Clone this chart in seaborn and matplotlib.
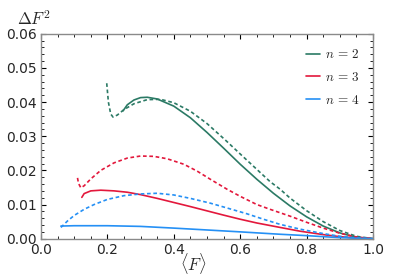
import matplotlib
matplotlib.use("Agg")
import matplotlib.pyplot as plt
import seaborn as sns
import pandas as pd
from matplotlib.ticker import MultipleLocator
from matplotlib.lines import Line2D

sns.set_theme(style="ticks")
plt.rcParams['font.family'] = ['DejaVu Sans']
plt.rcParams['mathtext.fontset'] = 'cm'

# n = 2
g_sol_x = [0.247, 0.26, 0.28, 0.30, 0.32, 0.35, 0.40, 0.45, 0.50, 0.55, 0.60, 0.65, 0.70, 0.75, 0.80, 0.85, 0.90, 0.95, 1.0]
g_sol_y = [0.0374, 0.0392, 0.0406, 0.0413, 0.0414, 0.0409, 0.0388, 0.0354, 0.0311, 0.0265, 0.0218, 0.0174, 0.0133, 0.0096, 0.0064, 0.0037, 0.0017, 0.0004, 0.0]
g_dsh_x = [0.198, 0.203, 0.210, 0.217, 0.23, 0.25, 0.28, 0.32, 0.36, 0.40, 0.45, 0.50, 0.555, 0.60, 0.65, 0.69, 0.72, 0.75, 0.80, 0.85, 0.90, 0.95, 1.0]
g_dsh_y = [0.0455, 0.0400, 0.0365, 0.0356, 0.0362, 0.0378, 0.0395, 0.0407, 0.0408, 0.0398, 0.0373, 0.0337, 0.0289, 0.0248, 0.0203, 0.0167, 0.0145, 0.0119, 0.0082, 0.0050, 0.0024, 0.0007, 0.0]
# n = 3
r_sol_x = [0.123, 0.13, 0.15, 0.18, 0.22, 0.26, 0.30, 0.35, 0.40, 0.45, 0.51, 0.55, 0.60, 0.65, 0.72, 0.78, 0.85, 0.90, 0.95, 1.0]
r_sol_y = [0.0121, 0.0132, 0.0140, 0.0142, 0.0140, 0.0136, 0.0129, 0.0118, 0.0106, 0.0094, 0.0079, 0.0069, 0.0057, 0.0046, 0.0033, 0.0022, 0.0012, 0.0006, 0.0002, 0.0]
r_dsh_x = [0.110, 0.113, 0.120, 0.13, 0.15, 0.18, 0.22, 0.26, 0.30, 0.34, 0.38, 0.43, 0.47, 0.51, 0.56, 0.60, 0.65, 0.69, 0.72, 0.75, 0.80, 0.85, 0.90, 0.95, 1.0]
r_dsh_y = [0.0178, 0.0162, 0.0149, 0.0155, 0.0175, 0.0200, 0.0222, 0.0236, 0.0242, 0.0241, 0.0234, 0.0218, 0.0198, 0.0174, 0.0145, 0.0124, 0.0100, 0.0086, 0.0076, 0.0066, 0.0048, 0.0031, 0.0016, 0.0005, 0.0]
# n = 4
b_sol_x = [0.06, 0.10, 0.20, 0.30, 0.40, 0.51, 0.60, 0.72, 0.80, 0.90, 1.0]
b_sol_y = [0.0037, 0.0038, 0.0038, 0.0036, 0.0031, 0.0025, 0.0020, 0.0013, 0.0009, 0.0003, 0.0]
b_dsh_x = [0.06, 0.08, 0.10, 0.13, 0.16, 0.20, 0.25, 0.30, 0.35, 0.40, 0.45, 0.51, 0.56, 0.62, 0.67, 0.72, 0.78, 0.85, 0.90, 0.95, 1.0]
b_dsh_y = [0.0033, 0.0052, 0.0068, 0.0086, 0.0100, 0.0115, 0.0126, 0.0131, 0.0133, 0.0128, 0.0118, 0.0104, 0.0090, 0.0073, 0.0057, 0.0042, 0.0028, 0.0015, 0.0007, 0.0002, 0.0]

labels = [r"$n\,=\,2$", r"$n\,=\,3$", r"$n\,=\,4$"]
colors = ["#2b7a65", "#e3183c", "#2590f5"]

fig = plt.figure(figsize=(4.07, 2.80), dpi=100)
ax = fig.add_axes([0.1007, 0.1475, 0.8158, 0.7321])

series = [
    (g_sol_x, g_sol_y, colors[0], "-"),
    (g_dsh_x, g_dsh_y, colors[0], (0, (2.2, 1.6))),
    (r_sol_x, r_sol_y, colors[1], "-"),
    (r_dsh_x, r_dsh_y, colors[1], (0, (2.2, 1.6))),
    (b_sol_x, b_sol_y, colors[2], "-"),
    (b_dsh_x, b_dsh_y, colors[2], (0, (2.2, 1.6))),
]
for xs, ys, c, ls in series:
    df = pd.DataFrame({"x": xs, "y": ys})
    sns.lineplot(data=df, x="x", y="y", ax=ax, color=c, linestyle=ls, lw=1.2, sort=False, estimator=None)

ax.set_xlim(0, 1.0)
ax.set_ylim(0, 0.06)
ax.xaxis.set_major_locator(MultipleLocator(0.2))
ax.xaxis.set_minor_locator(MultipleLocator(0.05))
ax.yaxis.set_major_locator(MultipleLocator(0.01))
ax.yaxis.set_minor_locator(MultipleLocator(0.002))
ax.xaxis.set_major_formatter(matplotlib.ticker.FormatStrFormatter('%.1f'))
ax.yaxis.set_major_formatter(matplotlib.ticker.FormatStrFormatter('%.2f'))
ax.tick_params(which='both', direction='in', top=True, right=True, color='black', labelsize=10, pad=3)
ax.tick_params(which='major', length=3.5, width=0.8)
ax.tick_params(which='minor', length=2, width=0.6)
for s in ax.spines.values():
    s.set_color('#8a8a8a')
    s.set_linewidth(1.0)
ax.set_xlabel("")
ax.set_ylabel("")

fig.text(0.042, 0.965, r"$\Delta F^2$", fontsize=12, ha='left', va='top')
fig.text(0.475, 0.015, r"$\langle F \rangle$", fontsize=12, ha='center', va='bottom')

handles = [Line2D([0], [0], color=c, lw=1.2) for c in colors]
ax.legend(handles, labels, loc='upper right', frameon=False, fontsize=9.5,
          handlelength=1.0, handletextpad=0.4, labelspacing=0.75,
          borderaxespad=0.0, bbox_to_anchor=(0.976, 0.955))

fig.savefig("out.png", dpi=100)
